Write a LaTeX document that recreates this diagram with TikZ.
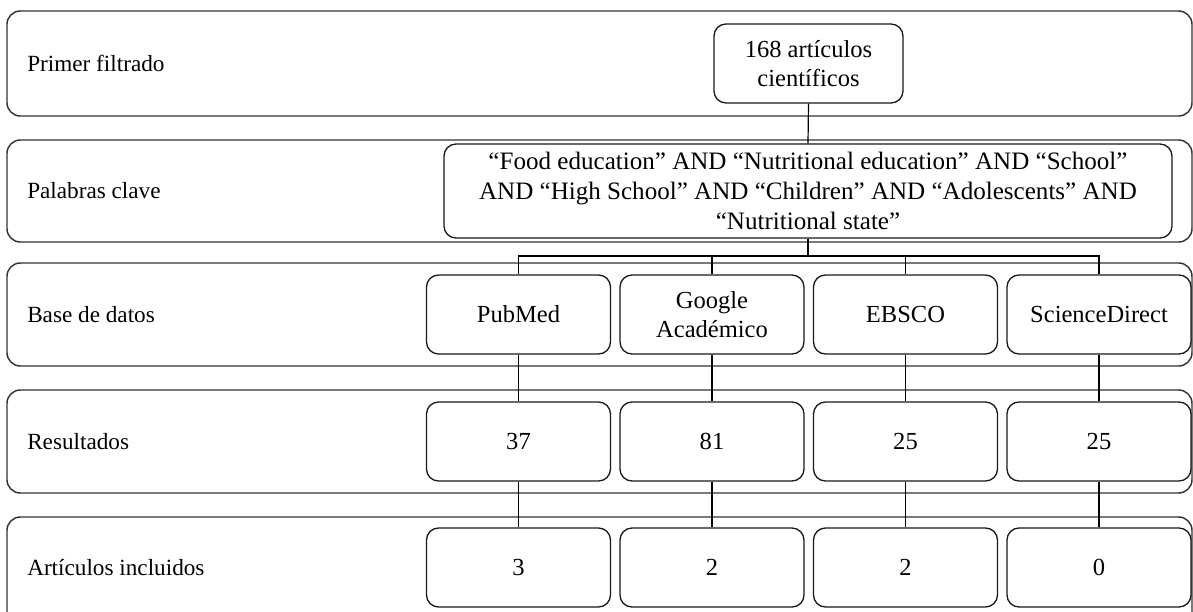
\documentclass[tikz,border=0pt]{standalone}
\usepackage{fontspec}
\setmainfont{Liberation Serif}
\begin{document}
\begin{tikzpicture}[x=0.75pt,y=-0.75pt,
  txt/.style={font=\fontsize{18.4}{22}\selectfont},
  band/.style={draw=black!80,line width=1.1pt,rounded corners=10pt},
  box/.style={draw=black!90,line width=1pt,rounded corners=9pt,txt,align=center,inner sep=2pt},
  dbbox/.style={box,minimum width=138pt,minimum height=59.25pt},
  lbl/.style={font=\fontsize{17.4}{21}\selectfont,anchor=west,inner sep=0pt},
  conn/.style={draw=black,line width=0.9pt}]
\useasboundingbox (0,0) rectangle (1193,611);
\clip (0,0) rectangle (1193,611);
% bands
\draw[band] (7,11) rectangle (1192,116);
\draw[band] (7,140) rectangle (1192,242);
\draw[band] (7,263) rectangle (1192,366);
\draw[band] (7,390) rectangle (1192,493);
\draw[band] (7,517) rectangle (1192,630);
% row labels
\node[lbl] (l1) at (27,63.5) {Primer filtrado};
\node[lbl] (l2) at (27,191) {Palabras clave};
\node[lbl] (l3) at (27,314.5) {Base de datos};
\node[lbl] (l4) at (27,441.5) {Resultados};
\node[lbl] (l5) at (27,567.5) {Artículos incluidos};
% boxes
\node[box,minimum width=141.75pt,minimum height=59.25pt] (art) at (808.5,63.5) {168 artículos\\científicos};
\node[box,minimum width=546pt,minimum height=70.5pt,font=\fontsize{18.8}{22.5}\selectfont] (kw) at (808,191)
  {“Food education” AND “Nutritional education” AND “School”\\AND “High School” AND “Children” AND “Adolescents” AND\\“Nutritional state”};
\node[dbbox] (pub) at (518.5,314.5) {PubMed};
\node[dbbox] (goo) at (712,314.5) {Google\\Académico};
\node[dbbox] (ebs) at (905.5,314.5) {EBSCO};
\node[dbbox] (sd) at (1099,314.5) {ScienceDirect};
\node[dbbox] (r1) at (518.5,441.5) {37};
\node[dbbox] (r2) at (712,441.5) {81};
\node[dbbox] (r3) at (905.5,441.5) {25};
\node[dbbox] (r4) at (1099,441.5) {25};
\node[dbbox] (i1) at (518.5,567.5) {3};
\node[dbbox] (i2) at (712,567.5) {2};
\node[dbbox] (i3) at (905.5,567.5) {2};
\node[dbbox] (i4) at (1099,567.5) {0};
% connectors
\coordinate (bus) at (808,256);
\draw[conn] (art.south) -- (kw.north);
\draw[conn] (kw.south) -- (bus);
\draw[conn] (pub.north) |- (sd.north |- bus) -- (sd.north);
\draw[conn] (goo.north) -- (goo.north |- bus);
\draw[conn] (ebs.north) -- (ebs.north |- bus);
\draw[conn] (pub.south) -- (r1.north);
\draw[conn] (goo.south) -- (r2.north);
\draw[conn] (ebs.south) -- (r3.north);
\draw[conn] (sd.south) -- (r4.north);
\draw[conn] (r1.south) -- (i1.north);
\draw[conn] (r2.south) -- (i2.north);
\draw[conn] (r3.south) -- (i3.north);
\draw[conn] (r4.south) -- (i4.north);
\end{tikzpicture}
\end{document}
